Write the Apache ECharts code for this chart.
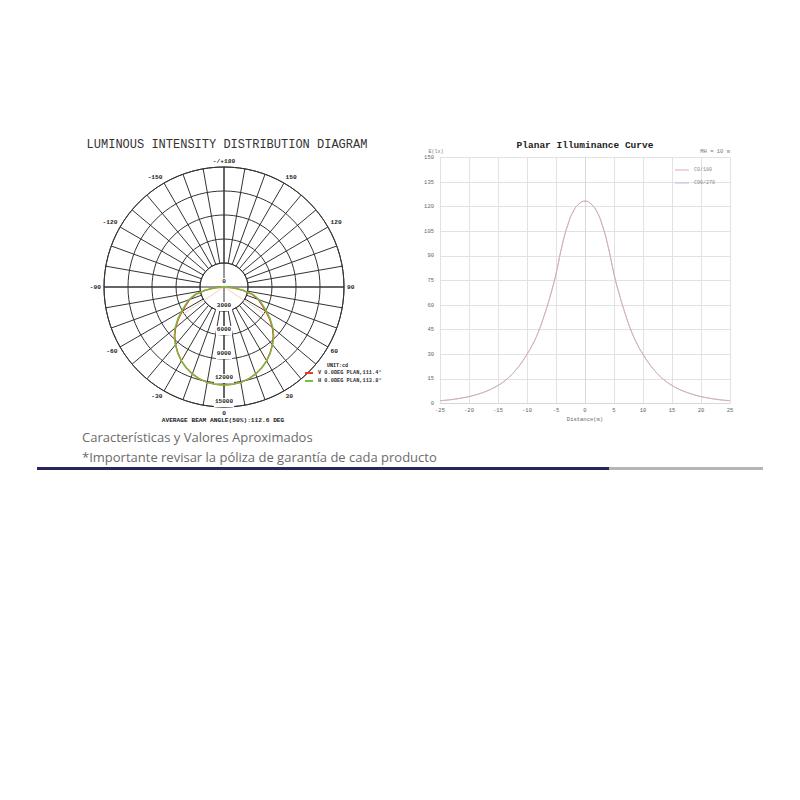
<!DOCTYPE html>
<html><head><meta charset="utf-8">
<script src="https://cdn.jsdelivr.net/npm/echarts@6/dist/echarts.min.js"></script>
<style>
html,body{margin:0;padding:0;background:#fff;}
#chart{position:absolute;left:0;top:0;width:800px;height:800px;}
.note{position:absolute;left:82px;font-family:'Open Sans',sans-serif;font-size:13px;color:#6b6b6b;line-height:20px;white-space:nowrap;}
.bar{position:absolute;top:467px;height:3px;}
</style></head><body>
<div id="chart"></div>
<div class="note" style="top:427px">Características y Valores Aproximados</div>
<div class="note" style="top:447px">*Importante revisar la póliza de garantía de cada producto</div>
<div class="bar" style="left:37px;width:572px;background:#27275a"></div>
<div class="bar" style="left:609px;width:154px;background:#b5b5b5"></div>
<script>
// ---- Luminous intensity distribution (cd) ----
const gammaDeg = [-90,-85,-80,-75,-70,-65,-60,-55,-50,-45,-40,-35,-30,-25,-20,-15,-10,-5,0,5,10,15,20,25,30,35,40,45,50,55,60,65,70,75,80,85,90];
const intensityV = [0,1100,2400,3700,4550,5200,6000,6950,7900,8700,9400,10050,10650,11150,11560,11880,12100,12210,12260,12210,12100,11880,11560,11150,10650,10050,9400,8700,7900,6950,6000,5200,4550,3700,2400,1100,0];
const intensityH = [0,1200,2550,3850,4700,5350,6150,7100,8000,8800,9450,10100,10680,11170,11580,11900,12110,12220,12260,12220,12110,11900,11580,11170,10680,10100,9450,8800,8000,7100,6150,5350,4700,3850,2550,1200,0];
const beamHalfAngles = [-56.3, 56.3];
const beamHalfIntensity = [6130, 6130];
const seriesNameV = 'V 0.0DEG PLAN,111.4°';
const seriesNameH = 'H 0.0DEG PLAN,113.8°';
const angleLabelTicks = [0,30,60,90,120,150,180,210,240,270,300,330];
const angleLabelTexts = ['0','30','60','90','120','150','-/+180','-150','-120','-90','-60','-30'];

// ---- Planar illuminance (lx) ----
const distanceM = [-25,-24,-23,-22,-21,-20,-19,-18,-17,-16,-15,-14,-13,-12,-11,-10,-9,-8,-7,-6,-5,-4,-3,-2,-1,0,1,2,3,4,5,6,7,8,9,10,11,12,13,14,15,16,17,18,19,20,21,22,23,24,25];
const illumC0 = [1.7,2.0,2.4,2.9,3.5,4.2,5.1,6.2,7.5,9.1,11.0,13.4,16.4,20.1,24.6,30.0,36.2,44.0,54.0,65.5,79.0,95.5,108.5,117.3,121.8,123.4,121.8,117.3,108.5,95.5,79.0,65.5,54.0,44.0,36.2,30.0,24.6,20.1,16.4,13.4,11.0,9.1,7.5,6.2,5.1,4.2,3.5,2.9,2.4,2.0,1.7];
const illumC90 = [1.7,2.0,2.4,2.9,3.5,4.2,5.1,6.2,7.5,9.1,11.0,13.4,16.4,20.1,24.6,30.0,36.2,44.0,54.0,65.5,79.0,95.5,108.5,117.3,121.8,123.4,121.8,117.3,108.5,95.5,79.0,65.5,54.0,44.0,36.2,30.0,24.6,20.1,16.4,13.4,11.0,9.1,7.5,6.2,5.1,4.2,3.5,2.9,2.4,2.0,1.7];

const mono = 'Liberation Mono';
const toAxisAngle = g => (g < 0 ? g + 360 : g);
const polarCenter = [224, 287];

const chart = echarts.init(document.getElementById('chart'), null, {renderer: 'svg'});
const option = {
  animation: false,
  graphic: [
    {type:'text', x:227, y:145, style:{text:'LUMINOUS INTENSITY DISTRIBUTION DIAGRAM', align:'center', verticalAlign:'middle', font:'normal 12px "Liberation Mono"', fill:'#333'}},
    {type:'text', x:223, y:420, z:20, style:{text:'AVERAGE BEAM ANGLE(50%):112.6 DEG', align:'center', verticalAlign:'middle', font:'bold 6.2px "Liberation Mono"', fill:'#222'}},
    {type:'text', x:327, y:366, style:{text:'UNIT:cd', align:'left', verticalAlign:'middle', font:'bold 5px "Liberation Mono"', fill:'#222'}},
    {type:'text', x:585, y:145, style:{text:'Planar Illuminance Curve', align:'center', verticalAlign:'middle', font:'bold 9.5px "Liberation Mono"', fill:'#222'}},
    {type:'text', x:436, y:151.5, style:{text:'E(lx)', align:'center', verticalAlign:'middle', font:'normal 5px "Liberation Mono"', fill:'#777'}},
    {type:'text', x:730, y:151.5, style:{text:'MH = 10 m', align:'right', verticalAlign:'middle', font:'normal 5.5px "Liberation Mono"', fill:'#777'}}
  ],
  legend: [
    {data:[seriesNameV, seriesNameH], orient:'vertical', left:305, top:370, padding:0, itemGap:2, itemWidth:8, itemHeight:2, icon:'rect',
     textStyle:{fontFamily:mono, fontSize:5.3, fontWeight:'bold', color:'#333', lineHeight:6}},
    {data:['C0/180','C90/270'], orient:'vertical', left:675, top:167, padding:0, itemGap:7, itemWidth:14, itemHeight:1, icon:'rect',
     textStyle:{fontFamily:mono, fontSize:5, color:'#888', lineHeight:6}}
  ],
  polar: [
    {center: polarCenter, radius: [24, 120]},
    {center: polarCenter, radius: [0, 120]}
  ],
  angleAxis: [
    {polarIndex:0, type:'value', min:0, max:360, interval:10, startAngle:270, clockwise:false,
     axisLine:{show:true, lineStyle:{color:'#333', width:1}}, axisTick:{show:false},
     splitLine:{show:true, lineStyle:{color:'#333', width:1}},
     axisLabel:{show:true, margin:3, fontFamily:mono, fontSize:6.2, fontWeight:'bold', color:'#222',
       formatter: v => { const i = angleLabelTicks.indexOf(Math.round(v)); return i < 0 ? '' : angleLabelTexts[i]; }}},
    {polarIndex:1, type:'value', min:0, max:360, interval:90, startAngle:270, clockwise:false,
     axisLine:{show:false}, axisTick:{show:false}, axisLabel:{show:false},
     splitLine:{show:true, lineStyle:{color:'#333', width:1}}}
  ],
  radiusAxis: [
    {polarIndex:0, type:'value', min:3000, max:15000, interval:3000,
     axisLine:{show:false}, axisTick:{show:false}, axisLabel:{show:false},
     splitLine:{show:true, lineStyle:{color:'#333', width:1}}},
    {polarIndex:1, type:'value', min:0, max:15000, interval:3000, z:5,
     axisLine:{show:false}, axisTick:{show:false}, splitLine:{show:false},
     axisLabel:{show:true, margin:0, align:'center', verticalAlign:'bottom', fontFamily:mono, fontSize:6, fontWeight:'bold', color:'#222',
       backgroundColor:'#fff', padding:[0,1,3,1], formatter: v => String(Math.round(v))}}
  ],
  grid: [{left:440, top:157.5, width:290, height:246}],
  xAxis: [{gridIndex:0, type:'value', min:-25, max:25, interval:5,
    axisLine:{show:true, lineStyle:{color:'#d8d8d8'}}, axisTick:{show:false},
    splitLine:{show:true, lineStyle:{color:'#e2e2e2', width:1}},
    axisLabel:{fontFamily:mono, fontSize:5.5, color:'#666', margin:4},
    name:'Distance(m)', nameLocation:'middle', nameGap:13, nameTextStyle:{fontFamily:mono, fontSize:5.5, color:'#666'}}],
  yAxis: [{gridIndex:0, type:'value', min:0, max:150, interval:15,
    axisLine:{show:true, lineStyle:{color:'#d8d8d8'}}, axisTick:{show:false},
    splitLine:{show:true, lineStyle:{color:'#e2e2e2', width:1}},
    axisLabel:{fontFamily:mono, fontSize:5.5, color:'#666', margin:6, padding:[0,0,3,0]}}],
  series: [
    {name:'beam', type:'line', coordinateSystem:'polar', polarIndex:1, z:8, silent:true, showSymbol:false,
     data:[[beamHalfIntensity[0], toAxisAngle(beamHalfAngles[0])],[0,0],[beamHalfIntensity[1], toAxisAngle(beamHalfAngles[1])]],
     lineStyle:{color:'#efd3bb', width:1}},
    {name:seriesNameV, type:'line', coordinateSystem:'polar', polarIndex:1, z:10, showSymbol:false, color:'#ee3a2a',
     data: gammaDeg.map((g,i) => [intensityV[i], toAxisAngle(g)]), lineStyle:{color:'#ee3a2a', width:1.4}},
    {name:seriesNameH, type:'line', coordinateSystem:'polar', polarIndex:1, z:11, showSymbol:false, color:'#74bf3e',
     data: gammaDeg.map((g,i) => [intensityH[i], toAxisAngle(g)]), lineStyle:{color:'#74bf3e', width:1.4}},
    {name:'C90/270', type:'line', xAxisIndex:0, yAxisIndex:0, showSymbol:false, smooth:true, color:'#b4c0e4',
     data: distanceM.map((d,i) => [d, illumC90[i]]), lineStyle:{color:'#b4c0e4', width:1}},
    {name:'C0/180', type:'line', xAxisIndex:0, yAxisIndex:0, showSymbol:false, smooth:true, color:'#e6a7b3',
     data: distanceM.map((d,i) => [d, illumC0[i]]), lineStyle:{color:'#e0a6b4', width:1, opacity:0.9}}
  ]
};
chart.setOption(option);
</script>
</body></html>
